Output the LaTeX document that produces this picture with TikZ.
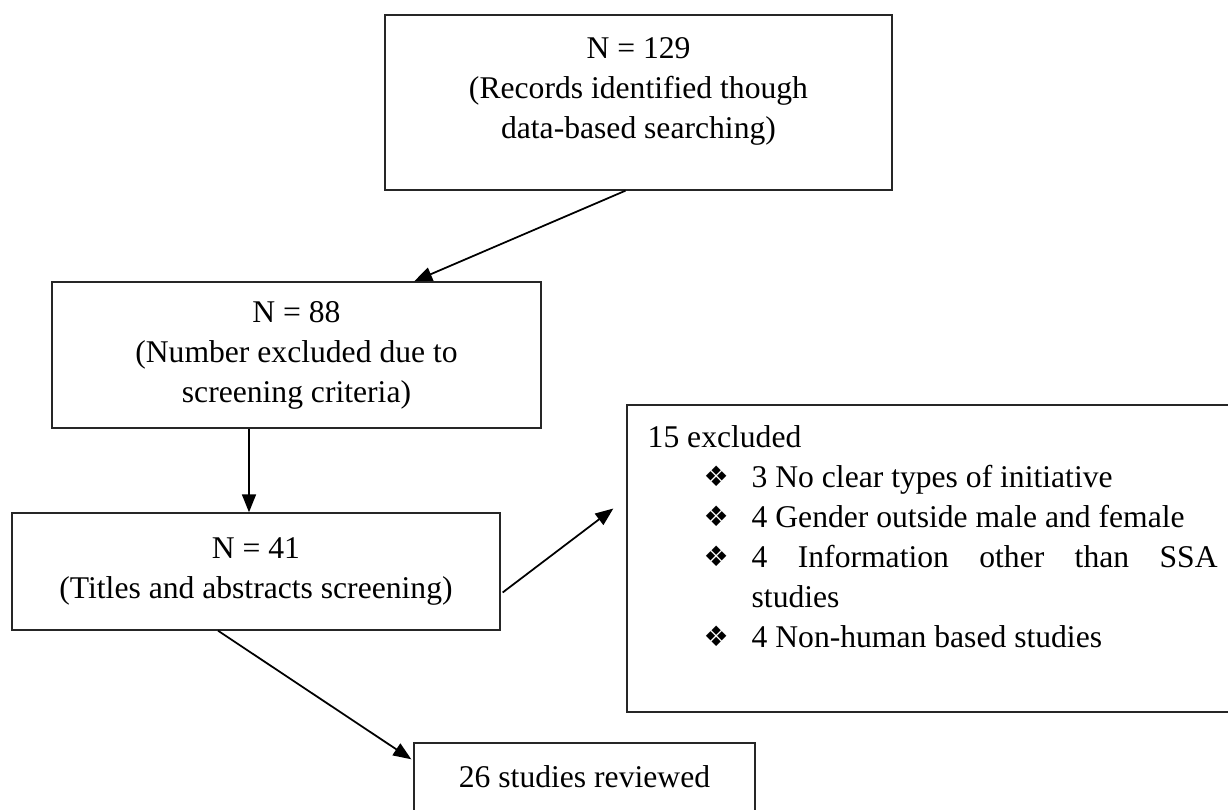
\documentclass[tikz,border=0pt]{standalone}
\usepackage{fontspec}
\setmainfont{Liberation Serif}
\newfontfamily\symfont{DejaVu Sans}
\usetikzlibrary{arrows.meta, calc}
\tikzstyle{process} = [
    rectangle,
    inner sep=0pt,
    align=center,
    draw=black!85,
    thick
]
\tikzstyle{arrow} = [semithick,line width=1pt,-{Triangle[length=0.36cm,width=0.28cm]}]
\newcommand{\exclitem}[1]{\hspace*{1.12cm}\makebox[0.96cm][l]{\raisebox{0.03cm}{\symfont\fontsize{16}{16}\selectfont ❖}}#1}

\begin{document}
\begin{tikzpicture}[x=0.02cm, y=-0.02cm, font=\fontsize{18}{22.8}\selectfont]

\useasboundingbox (0,0) rectangle (1228,810);
\clip (0,0) rectangle (1228,810);

\node (records) [process, minimum width=10.14cm, minimum height=3.5cm] at (638.5,102.5)
{N = 129\\(Records identified though\\data-based searching)\\[-0.22cm]\mbox{}};

\node (screened) [process, minimum width=9.78cm, minimum height=2.92cm] at (296.5,355)
{N = 88\\(Number excluded due to\\screening criteria)};

\node (titles) [process, minimum width=9.76cm, minimum height=2.34cm] at (256,571.5)
{N = 41\\(Titles and abstracts screening)};

\node (excluded) [process, minimum width=12.36cm, minimum height=6.14cm] at (936,558.5) {};

\node (exclist) [anchor=north west, inner sep=0pt, align=left] at ($(excluded.north west)+(21,21)$)
{15 excluded\\
\exclitem{3 No clear types of initiative}\\
\exclitem{4 Gender outside male and female}\\
\exclitem{\makebox[9.32cm][s]{4 Information other than SSA}}\\
\hspace*{2.08cm}studies\\
\exclitem{4 Non-human based studies}};

\node (reviewed) [process, minimum width=6.82cm, minimum height=1.36cm] at (584.5,777)
{26 studies reviewed};

\draw [arrow] ($(records.south)+(-13,0)$) -- ($(screened.north west)!0.74!(screened.north east)$);
\draw [arrow] ($(titles.north |- screened.south)+(-7,0)$) -- ($(titles.north)+(-7,0)$);
\draw [arrow] ($(titles.east)+(2,21)$) -- ($(excluded.west)+(-13,-50)$);
\draw [arrow] ($(titles.south)+(-38,0)$) -- ($(reviewed.north west)+(-2,17)$);

\end{tikzpicture}
\end{document}
